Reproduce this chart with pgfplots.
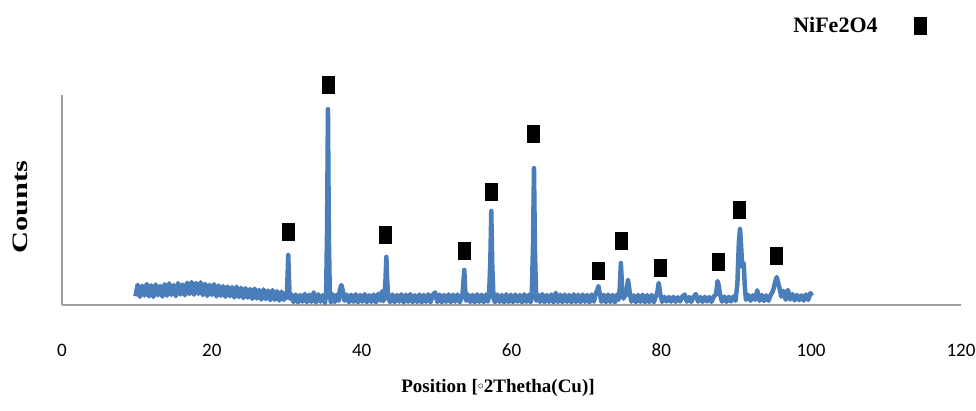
\documentclass[border=0pt]{standalone}
\usepackage{pgfplots}
\pgfplotsset{compat=1.18}
\usepackage{pgfplotstable}
\usepackage{fontspec}
\setmainfont{Liberation Serif}
\newfontfamily\carlito{Carlito}
\definecolor{xrdblue}{RGB}{74,126,187}
\definecolor{axisgray}{RGB}{160,160,160}

% legend entry: text first, then the marker set off to its right
\pgfplotsset{square legend/.style={legend image code/.code={%
  \path (0pt,0pt) (46pt,0pt);
  \draw[##1] plot coordinates {(40pt,0pt)};}}}

% XRD pattern: 2theta (deg) vs counts (arbitrary units)
\pgfplotstableread{
tt cnt
9.8 4.2
10.1 9.6
10.4 3.9
10.7 9.2
11.0 4.5
11.3 10.0
11.6 4.1
11.9 9.4
12.2 3.8
12.5 9.8
12.8 4.6
13.1 9.1
13.4 4.0
13.7 9.9
14.0 4.4
14.3 10.3
14.6 4.8
14.9 9.5
15.2 4.2
15.5 10.4
15.8 5.0
16.1 9.7
16.4 4.6
16.7 10.6
17.0 5.2
17.3 10.9
17.6 4.9
17.9 10.5
18.2 5.3
18.5 10.8
18.8 4.7
19.1 10.1
19.4 4.3
19.7 9.6
20.0 4.8
20.3 9.9
20.6 4.1
20.9 9.3
21.2 4.4
21.5 9.0
21.8 3.9
22.1 8.8
22.4 4.2
22.7 8.5
23.0 3.6
23.3 8.7
23.6 3.8
23.9 8.2
24.2 3.3
24.5 8.0
24.8 3.5
25.1 7.6
25.4 2.9
25.7 7.8
26.0 3.1
26.3 7.2
26.6 2.6
26.9 7.4
27.2 2.8
27.5 6.9
27.8 2.3
28.1 7.1
28.4 2.5
28.7 6.6
29.0 2.1
29.3 6.4
29.6 2.4
29.9 5.8
30.0 3.5
30.1 13.0
30.2 23.8
30.3 12.0
30.4 3.0
30.6 5.2
30.9 1.4
31.2 5.0
31.5 1.2
31.8 4.8
32.1 1.6
32.4 5.3
32.7 1.3
33.0 4.9
33.3 1.5
33.6 6.0
33.9 1.2
34.2 5.1
34.5 1.6
34.8 4.7
35.1 1.0
35.25 5.0
35.38 35.0
35.5 93.3
35.62 33.0
35.75 4.5
35.9 1.2
36.1 5.2
36.4 1.4
36.7 5.0
36.95 2.0
37.1 7.5
37.3 9.5
37.5 6.5
37.7 2.0
38.0 5.0
38.3 1.3
38.6 4.9
38.9 1.5
39.2 5.1
39.5 1.2
39.8 4.8
40.1 1.6
40.4 5.2
40.7 1.3
41.0 4.7
41.3 1.5
41.6 5.0
41.9 1.2
42.2 5.3
42.5 2.0
42.7 6.5
42.9 1.8
43.05 4.5
43.18 12.0
43.3 22.9
43.42 11.0
43.55 3.0
43.8 1.4
44.1 5.0
44.4 1.3
44.7 4.8
45.0 1.6
45.3 5.1
45.6 1.2
45.9 4.9
46.2 1.5
46.5 5.2
46.8 1.3
47.1 4.7
47.4 1.4
47.7 5.0
48.0 1.2
48.3 4.8
48.6 1.5
48.9 5.1
49.2 1.3
49.5 4.9
49.8 6.0
50.1 1.4
50.4 5.0
50.7 1.2
51.0 4.8
51.3 1.5
51.6 5.1
51.9 1.3
52.2 4.9
52.5 1.6
52.8 5.0
53.1 1.3
53.45 4.8
53.58 11.0
53.7 16.7
53.82 7.2
53.95 2.0
54.2 5.0
54.5 1.4
54.8 4.8
55.1 1.2
55.4 5.1
55.7 1.5
56.0 4.9
56.3 1.3
56.6 5.0
56.85 1.6
57.0 4.5
57.17 20.0
57.3 44.8
57.43 19.0
57.6 3.0
57.8 1.3
58.1 5.0
58.4 1.5
58.7 4.8
59.0 1.2
59.3 5.1
59.6 1.4
59.9 4.9
60.2 1.3
60.5 5.0
60.8 1.6
61.1 4.8
61.4 1.2
61.7 5.1
62.0 1.5
62.3 4.9
62.55 1.3
62.7 4.0
62.87 28.0
63.0 65.2
63.13 26.0
63.3 2.0
63.5 5.0
63.8 1.4
64.1 5.2
64.4 1.3
64.7 4.8
65.0 1.5
65.3 5.0
65.6 1.2
65.9 5.8
66.2 1.4
66.5 4.9
66.8 1.3
67.1 5.0
67.4 1.5
67.7 4.8
68.0 1.2
68.3 5.1
68.6 1.4
68.9 4.9
69.2 1.3
69.5 5.0
69.8 1.5
70.1 4.8
70.4 1.2
70.7 5.0
71.0 1.6
71.25 5.5
71.45 7.0
71.6 9.0
71.8 5.0
72.0 1.5
72.3 4.9
72.6 1.3
72.9 5.0
73.2 1.4
73.5 4.8
73.8 1.2
74.1 5.0
74.3 2.5
74.45 8.2
74.6 20.0
74.75 9.2
74.95 3.0
75.15 6.0
75.3 4.5
75.55 12.0
75.8 5.5
76.0 1.6
76.3 4.6
76.6 1.3
76.9 4.8
77.2 1.5
77.5 4.9
77.8 1.2
78.1 4.7
78.4 1.4
78.7 4.8
79.0 1.3
79.3 4.5
79.45 5.7
79.65 10.5
79.85 5.2
80.1 1.5
80.4 3.9
80.7 1.7
81.0 3.8
81.3 1.6
81.6 3.9
81.9 1.5
82.2 3.7
82.5 1.7
82.8 4.0
83.1 5.0
83.4 1.6
83.7 3.8
84.0 1.5
84.3 3.9
84.6 5.2
84.9 1.6
85.2 3.8
85.5 1.5
85.8 3.9
86.1 1.7
86.4 3.8
86.7 1.5
87.0 4.0
87.3 5.2
87.5 11.4
87.65 9.5
87.85 4.7
88.1 1.6
88.4 4.0
88.7 1.5
89.0 3.9
89.3 1.7
89.6 4.0
89.9 2.0
90.15 10.0
90.35 30.0
90.5 36.2
90.65 28.0
90.8 18.0
91.0 20.0
91.15 8.2
91.3 2.5
91.6 4.8
91.9 2.0
92.2 4.6
92.5 2.5
92.8 7.0
93.1 2.0
93.4 4.8
93.7 1.9
94.0 4.6
94.3 2.0
94.6 4.8
94.9 6.7
95.2 11.0
95.4 13.3
95.6 10.5
95.8 7.7
96.0 4.0
96.3 6.7
96.6 2.5
96.9 7.2
97.2 2.6
97.5 5.2
97.8 2.2
98.1 4.8
98.4 2.3
98.7 4.6
99.0 2.1
99.3 5.0
99.6 2.4
99.9 5.7
100.1 4.4
}\xrddata

% Reflections indexed to the NiFe2O4 spinel phase
\pgfplotstableread{
tt pos
30.2 34.8
35.5 104.8
43.1 33.3
53.7 25.7
57.3 53.8
62.9 81.4
71.6 16.2
74.6 30.5
79.8 17.6
87.6 20.7
90.4 45.5
95.3 23.3
}\spinelpeaks

\begin{document}
\begin{tikzpicture}
\useasboundingbox (-62pt,-105pt) rectangle (914pt,305pt);
\begin{axis}[
  at={(0pt,0pt)}, anchor=south west,
  scale only axis,
  width=899pt, height=210pt,
  xmin=0, xmax=120, ymin=0, ymax=100,
  clip=false,
  axis x line=bottom, axis y line=left,
  axis line style={-, draw=axisgray, line width=1.8pt},
  xtick={0,20,...,120},
  ytick=\empty,
  major tick length=0pt,
  /pgf/number format/assume math mode=true,
  xticklabel style={font=\carlito\fontsize{19}{21}\selectfont, anchor=center, yshift=-45pt},
  xlabel={Position [\raisebox{3.5pt}{\scalebox{0.7}{$\circ$}}2Thetha(Cu)]},
  xlabel style={font=\fontsize{19}{22}\selectfont\bfseries,
    at={(axis description cs:0.485,-0.395)}, anchor=center},
  ylabel={\scalebox{1.38}[1]{Counts}},
  ylabel style={font=\fontsize{22}{24}\selectfont\bfseries,
    at={(axis description cs:-0.0467,0.467)}, anchor=center},
  legend plot pos=right,
  legend style={draw=none, fill=none, inner sep=0pt,
    at={(axis description cs:0.811,1.329)}, anchor=west,
    font=\fontsize{22}{24}\selectfont\bfseries},
]
\addplot[xrdblue, line width=4.5pt, line join=round, forget plot]
  table[x=tt, y=cnt] {\xrddata};
\addplot[only marks, mark=square*, mark size=6pt,
  mark options={fill=black, draw=black, yscale=1.4}, square legend]
  table[x=tt, y=pos] {\spinelpeaks};
\addlegendentry{NiFe2O4}
\end{axis}
\end{tikzpicture}
\end{document}
